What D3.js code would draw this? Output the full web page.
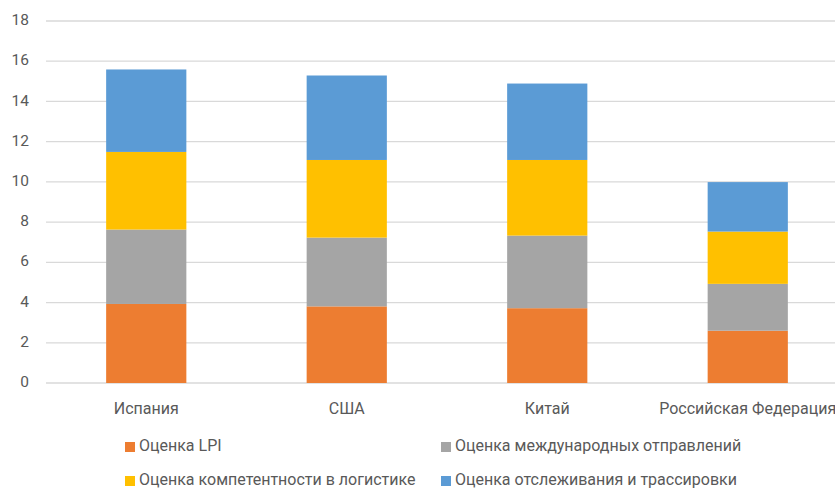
<!DOCTYPE html>
<html>
<head>
<meta charset="utf-8">
<script src="https://cdn.jsdelivr.net/npm/d3@7"></script>
<style>
  body { margin: 0; background: #fff; }
  text { font-family: "Liberation Sans Narrow", Roboto, "Noto Sans", sans-serif; fill: #595959; }
</style>
</head>
<body>
<svg id="chart" width="835" height="488"></svg>
<script>
"use strict";

// categories and series
const categories = ["Испания", "США", "Китай", "Российская Федерация"];
const series_names = [
  "Оценка LPI",
  "Оценка международных отправлений",
  "Оценка компетентности в логистике",
  "Оценка отслеживания и трассировки"
];
const lpi = [3.93, 3.81, 3.72, 2.60];
const shipments = [3.70, 3.42, 3.61, 2.33];
const competence = [3.86, 3.86, 3.76, 2.60];
const tracking = [4.10, 4.20, 3.80, 2.46];
const y_ticks = [0, 2, 4, 6, 8, 10, 12, 14, 16, 18];

const colors = ["#ED7D31", "#A5A5A5", "#FFC000", "#5B9BD5"];

const rows = categories.map((c, i) => ({
  cat: c, s0: lpi[i], s1: shipments[i], s2: competence[i], s3: tracking[i]
}));
const keys = ["s0", "s1", "s2", "s3"];
const stacked = d3.stack().keys(keys)(rows);

const svg = d3.select("#chart");

const x = d3.scaleBand().domain(categories).range([46, 848]).paddingInner(0.6).paddingOuter(0.3);
const y = d3.scaleLinear().domain([0, 18]).range([383, 21]);

// grid lines
svg.append("g")
  .selectAll("line")
  .data(y_ticks)
  .join("line")
  .attr("x1", 46)
  .attr("x2", 835)
  .attr("y1", d => y(d))
  .attr("y2", d => y(d))
  .attr("stroke", "#d9d9d9")
  .attr("stroke-width", 1.3);

// y tick labels
svg.append("g")
  .selectAll("text")
  .data(y_ticks)
  .join("text")
  .text(d => d)
  .attr("x", 29)
  .attr("y", d => y(d))
  .attr("text-anchor", "end")
  .attr("dominant-baseline", "middle")
  .attr("font-size", 15.5);

// bars
svg.append("g")
  .selectAll("g")
  .data(stacked)
  .join("g")
  .attr("fill", (d, i) => colors[i])
  .selectAll("rect")
  .data(d => d)
  .join("rect")
  .attr("x", d => x(d.data.cat))
  .attr("width", x.bandwidth())
  .attr("y", d => y(d[1]))
  .attr("height", d => y(d[0]) - y(d[1]));

// category labels
svg.append("g")
  .selectAll("text")
  .data(categories)
  .join("text")
  .text(d => d)
  .attr("x", d => x(d) + x.bandwidth() / 2)
  .attr("y", 410)
  .attr("text-anchor", "middle")
  .attr("dominant-baseline", "middle")
  .attr("font-size", 16);

// legend
const legend_pos = [
  { x: 125, y: 447 },
  { x: 441, y: 447 },
  { x: 125, y: 481 },
  { x: 441, y: 481 }
];
const lg = svg.append("g")
  .selectAll("g")
  .data(series_names)
  .join("g")
  .attr("transform", (d, i) => `translate(${legend_pos[i].x},${legend_pos[i].y})`);

lg.append("rect")
  .attr("x", 0)
  .attr("y", -5)
  .attr("width", 10)
  .attr("height", 10)
  .attr("fill", (d, i) => colors[i]);

lg.append("text")
  .text(d => d)
  .attr("x", 14)
  .attr("y", 0)
  .attr("dominant-baseline", "middle")
  .attr("font-size", 16);
</script>
</body>
</html>
